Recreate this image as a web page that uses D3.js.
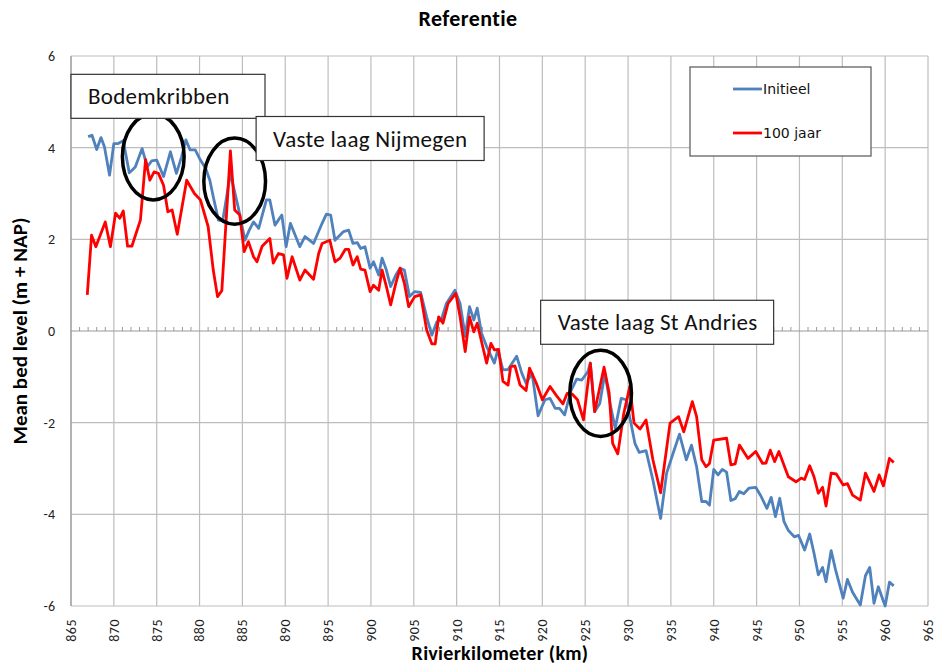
<!DOCTYPE html>
<html>
<head>
<meta charset="utf-8">
<script src="https://cdn.jsdelivr.net/npm/d3@7"></script>
<style>
  body { margin: 0; background: #fff; }
  svg { display: block; font-family: Carlito, Calibri, Lato, sans-serif; }
</style>
</head>
<body>
<div id="chart"></div>
<script>
// Initieel bed level (km, m + NAP)
const initKm = [867.0, 867.45, 868.0, 868.5, 868.9, 869.5, 870.0, 870.5, 871.1, 871.8, 872.5, 873.3, 873.9, 874.4, 875.0, 875.8, 876.6, 877.3, 877.9, 878.4, 878.9, 879.5, 880.1, 880.7, 881.2, 881.6, 882.2, 882.7, 883.6, 884.5, 885.3, 885.8, 886.3, 886.9, 887.8, 888.2, 888.8, 889.6, 890.1, 890.6, 891.7, 892.3, 893.3, 894.3, 894.8, 895.3, 895.8, 896.8, 897.4, 897.9, 898.4, 898.8, 899.3, 899.9, 900.3, 900.9, 901.3, 901.8, 902.3, 902.9, 903.4, 903.9, 904.5, 905.1, 905.8, 906.5, 907.1, 907.7, 908.2, 908.8, 909.8, 910.4, 911.0, 911.5, 912.0, 912.4, 912.9, 913.5, 914.4, 914.8, 915.4, 916.0, 917.0, 917.6, 918.1, 918.8, 919.5, 920.3, 920.9, 921.5, 922.0, 922.6, 923.3, 924.0, 924.6, 925.3, 925.6, 926.1, 926.7, 927.3, 927.9, 928.5, 929.2, 929.8, 930.8, 931.3, 932.1, 932.9, 933.8, 934.5, 935.2, 936.0, 936.8, 937.4, 938.0, 938.6, 939.1, 939.5, 940.0, 940.5, 941.0, 941.5, 942.0, 942.5, 943.0, 943.5, 944.1, 944.9, 945.5, 946.2, 946.7, 947.2, 947.7, 948.2, 948.7, 949.4, 949.9, 950.6, 951.2, 951.7, 952.2, 952.7, 953.1, 953.7, 954.2, 955.1, 955.6, 956.2, 957.1, 957.7, 958.2, 958.7, 959.2, 960.0, 960.5, 961.0];
const initVal = [4.24, 4.27, 3.96, 4.22, 4.02, 3.40, 4.09, 4.09, 4.15, 3.45, 3.58, 3.98, 3.58, 3.71, 3.73, 3.37, 3.91, 3.44, 3.80, 4.17, 3.95, 3.95, 3.73, 3.55, 3.29, 2.93, 2.42, 2.40, 3.44, 2.71, 1.98, 2.20, 2.38, 2.24, 2.86, 2.86, 2.31, 2.53, 1.84, 2.35, 1.84, 2.06, 1.91, 2.35, 2.55, 2.53, 1.98, 2.17, 2.20, 1.91, 1.93, 1.80, 1.84, 1.37, 1.51, 1.22, 1.59, 1.33, 0.97, 1.22, 1.37, 1.33, 0.75, 0.86, 0.84, 0.31, -0.09, 0.20, 0.24, 0.60, 0.89, 0.60, -0.12, 0.53, 0.24, 0.50, -0.05, -0.34, -0.70, -0.41, -0.85, -0.84, -0.55, -0.92, -1.14, -0.92, -1.85, -1.50, -1.47, -1.69, -1.69, -1.83, -1.32, -1.05, -1.07, -0.89, -0.70, -1.76, -1.58, -0.92, -1.58, -2.12, -1.47, -1.50, -2.45, -2.65, -2.61, -3.25, -4.09, -3.10, -2.70, -2.25, -2.81, -2.49, -2.96, -3.72, -3.72, -3.80, -3.02, -3.14, -3.02, -3.08, -3.70, -3.66, -3.50, -3.55, -3.43, -3.41, -3.60, -3.87, -3.63, -4.05, -3.65, -4.16, -4.35, -4.49, -4.46, -4.78, -4.43, -4.85, -5.32, -5.16, -5.47, -4.79, -5.20, -5.83, -5.42, -5.70, -5.98, -5.34, -5.16, -5.94, -5.58, -6.00, -5.48, -5.56];

// bed level after 100 jaar
const jaarKm = [866.9, 867.4, 867.9, 869.0, 869.6, 870.2, 870.7, 871.1, 871.6, 872.1, 873.1, 873.7, 874.2, 874.7, 875.2, 875.8, 876.3, 876.8, 877.4, 878.5, 879.4, 880.1, 881.0, 881.6, 882.1, 882.6, 883.6, 884.1, 884.7, 885.2, 885.7, 886.3, 886.7, 887.3, 888.2, 888.6, 889.2, 889.8, 890.2, 890.8, 891.7, 892.3, 893.3, 893.9, 894.3, 895.2, 895.8, 896.4, 897.0, 897.4, 897.9, 898.4, 898.8, 899.3, 899.9, 900.3, 900.9, 901.3, 901.8, 902.3, 902.9, 903.4, 903.9, 904.4, 905.1, 905.8, 906.5, 907.1, 907.5, 907.9, 908.4, 909.0, 909.9, 910.4, 911.0, 911.5, 912.0, 912.4, 912.9, 913.5, 914.0, 914.4, 914.9, 915.4, 916.0, 916.3, 916.8, 917.4, 918.1, 918.5, 919.3, 920.0, 920.9, 921.6, 922.4, 922.9, 923.5, 924.1, 924.8, 925.6, 926.1, 927.2, 927.8, 928.2, 928.8, 929.5, 930.2, 930.7, 931.4, 932.1, 932.9, 933.8, 934.9, 935.9, 936.5, 937.5, 938.0, 938.6, 939.1, 939.5, 940.0, 941.5, 942.0, 942.5, 943.0, 944.0, 944.9, 945.7, 946.1, 946.6, 947.1, 947.6, 948.7, 949.6, 950.2, 950.6, 951.2, 951.7, 952.2, 952.7, 953.1, 953.7, 954.3, 955.1, 955.6, 956.2, 957.1, 957.7, 958.7, 959.3, 959.8, 960.5, 961.0];
const jaarVal = [0.79, 2.09, 1.84, 2.38, 1.84, 2.57, 2.46, 2.62, 1.85, 1.85, 2.42, 3.74, 3.29, 3.47, 3.44, 3.18, 2.60, 2.64, 2.11, 3.29, 3.00, 2.86, 2.28, 1.33, 0.75, 0.88, 3.93, 2.64, 2.53, 1.73, 1.95, 1.62, 1.51, 1.85, 2.02, 1.48, 1.69, 1.66, 1.15, 1.62, 1.11, 1.33, 1.13, 1.69, 1.91, 1.98, 1.51, 1.59, 1.78, 1.78, 1.44, 1.62, 1.35, 1.33, 0.86, 1.00, 0.89, 1.33, 0.97, 0.57, 1.04, 1.37, 1.04, 0.53, 0.75, 0.79, 0.02, -0.28, -0.28, 0.31, 0.17, 0.60, 0.82, 0.31, -0.45, 0.31, -0.02, 0.17, -0.23, -0.70, -0.27, -0.41, -0.40, -1.10, -1.18, -0.78, -0.76, -1.18, -1.30, -0.81, -1.14, -1.50, -1.21, -1.40, -1.59, -1.36, -1.38, -1.50, -1.94, -0.70, -1.76, -0.79, -1.36, -2.45, -2.68, -1.80, -1.21, -2.01, -2.14, -1.94, -2.81, -3.53, -2.01, -1.87, -2.20, -1.54, -1.87, -2.81, -2.96, -2.89, -2.38, -2.34, -2.92, -2.90, -2.49, -2.78, -2.63, -2.89, -2.88, -2.60, -2.85, -2.63, -3.18, -3.29, -3.21, -3.24, -2.94, -3.18, -3.54, -3.41, -3.82, -3.10, -3.12, -3.36, -3.33, -3.58, -3.69, -3.10, -3.50, -3.14, -3.38, -2.78, -2.87];

const xTicks = d3.range(865, 966, 5);
const yTicks = [-6, -4, -2, 0, 2, 4, 6];
const seriesNames = ['Initieel', '100 jaar'];
const seriesColors = ['#4f81bd', '#ff0000'];

// annotation boxes (anchor in data units) and circles round the structures
const noteText = ['Bodemkribben', 'Vaste laag Nijmegen', 'Vaste laag St Andries'];
const noteKm = [865.0, 886.6, 919.8];
const noteLevel = [5.60, 4.68, 0.67];
const noteWidth = [194, 228, 233];
const ringKm = [874.6, 884.1, 926.8];
const ringLevel = [3.80, 3.27, -1.36];

const width = 937, height = 668;
const margin = {top: 56, right: 9, bottom: 62, left: 71};

const svg = d3.select('#chart').append('svg')
    .attr('width', width)
    .attr('height', height);

const x = d3.scaleLinear().domain([865, 965]).range([margin.left, width - margin.right]);
const y = d3.scaleLinear().domain([-6, 6]).range([height - margin.bottom, margin.top]);

// gridlines
svg.append('g').selectAll('line.v')
    .data(xTicks)
  .enter().append('line')
    .attr('x1', d => x(d)).attr('x2', d => x(d))
    .attr('y1', y(6)).attr('y2', y(-6))
    .attr('stroke', '#bdbdbd').attr('stroke-width', 1.2);

svg.append('g').selectAll('line.h')
    .data(yTicks)
  .enter().append('line')
    .attr('x1', x(865)).attr('x2', x(965))
    .attr('y1', d => y(d)).attr('y2', d => y(d))
    .attr('stroke', d => d === 0 ? '#9a9a9a' : '#bdbdbd').attr('stroke-width', 1.2);

// left axis line
svg.append('line')
    .attr('x1', x(865)).attr('x2', x(865))
    .attr('y1', y(6)).attr('y2', y(-6))
    .attr('stroke', '#9a9a9a').attr('stroke-width', 1.2);

// minor ticks on the zero line, every km
svg.append('g').selectAll('line')
    .data(d3.range(866, 965, 1).filter(d => d % 5 !== 0))
  .enter().append('line')
    .attr('x1', d => x(d)).attr('x2', d => x(d))
    .attr('y1', y(0) - 4).attr('y2', y(0))
    .attr('stroke', '#9a9a9a').attr('stroke-width', 1);

// y tick labels
svg.append('g').selectAll('text')
    .data(yTicks)
  .enter().append('text')
    .attr('x', 55).attr('y', d => y(d))
    .attr('dy', '0.35em')
    .attr('text-anchor', 'end')
    .attr('font-size', '14px')
    .attr('fill', '#222')
    .text(d => d);

// x tick labels, rotated
svg.append('g').selectAll('text')
    .data(xTicks)
  .enter().append('text')
    .attr('transform', d => 'translate(' + x(d) + ',' + (y(-6) + 13) + ') rotate(-90)')
    .attr('dy', '0.35em')
    .attr('text-anchor', 'end')
    .attr('font-size', '14px')
    .attr('letter-spacing', '0.5px')
    .attr('fill', '#222')
    .text(d => d);

// series lines
const line = d3.line().x(d => x(d[0])).y(d => y(d[1]));
const series = [d3.zip(initKm, initVal), d3.zip(jaarKm, jaarVal)];

svg.append('g').selectAll('path')
    .data(series)
  .enter().append('path')
    .attr('d', line)
    .attr('fill', 'none')
    .attr('stroke', (d, i) => seriesColors[i])
    .attr('stroke-width', 2.8)
    .attr('stroke-linejoin', 'round');

// circles round the structures
svg.append('g').selectAll('ellipse')
    .data(ringKm)
  .enter().append('ellipse')
    .attr('cx', d => x(d))
    .attr('cy', (d, i) => y(ringLevel[i]))
    .attr('rx', x(868.6) - x(865))
    .attr('ry', y(0) - y(0.94))
    .attr('fill', 'none')
    .attr('stroke', '#000')
    .attr('stroke-width', 3.5);

// annotation boxes
const notes = svg.append('g').selectAll('g')
    .data(noteText)
  .enter().append('g')
    .attr('transform', (d, i) => 'translate(' + x(noteKm[i]) + ',' + y(noteLevel[i]) + ')');

notes.append('rect')
    .attr('width', (d, i) => noteWidth[i]).attr('height', 44)
    .attr('fill', '#fff')
    .attr('stroke', '#333').attr('stroke-width', 1.2);

notes.append('text')
    .attr('x', 17).attr('y', 22)
    .attr('dy', '0.35em')
    .attr('font-size', '23px')
    .attr('letter-spacing', '0.3px')
    .attr('fill', '#111')
    .text(d => d);

// legend
const legend = svg.append('g').attr('transform', 'translate(690,67)');
legend.append('rect')
    .attr('width', 181).attr('height', 89)
    .attr('fill', '#fff')
    .attr('stroke', '#555').attr('stroke-width', 1.2);

const items = legend.selectAll('g.item')
    .data(seriesNames)
  .enter().append('g')
    .attr('transform', (d, i) => 'translate(43,' + (22 + i * 44) + ')');

items.append('line')
    .attr('x1', 0).attr('x2', 29)
    .attr('stroke', (d, i) => seriesColors[i])
    .attr('stroke-width', 2.8);

items.append('text')
    .attr('x', 30).attr('dy', '0.35em')
    .attr('font-family', 'Verdana, DejaVu Sans, sans-serif')
    .attr('font-size', '14px')
    .attr('fill', '#111')
    .text(d => d);

// titles
svg.append('text')
    .attr('x', 468).attr('y', 26)
    .attr('text-anchor', 'middle')
    .attr('font-size', '22px').attr('font-weight', 'bold')
    .attr('letter-spacing', '0.4px')
    .text('Referentie');

svg.append('text')
    .attr('x', 500).attr('y', 660)
    .attr('text-anchor', 'middle')
    .attr('font-size', '20px').attr('font-weight', 'bold')
    .attr('letter-spacing', '0.3px')
    .text('Rivierkilometer (km)');

svg.append('text')
    .attr('transform', 'translate(27,' + y(0) + ') rotate(-90)')
    .attr('text-anchor', 'middle')
    .attr('font-size', '21px').attr('font-weight', 'bold')
    .text('Mean bed level (m + NAP)');
</script>
</body>
</html>
